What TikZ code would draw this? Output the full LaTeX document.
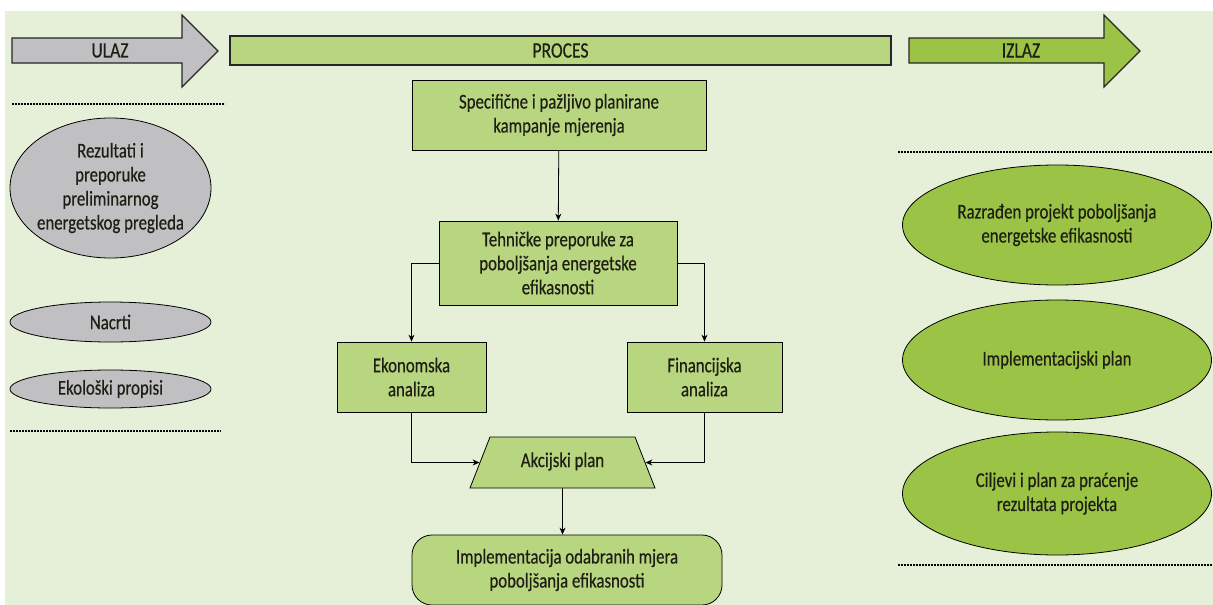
\documentclass[tikz,border=0pt]{standalone}
\usepackage{fontspec}
\setmainfont[FakeStretch=0.8,FakeBold=0.4]{Carlito}
\usetikzlibrary{shapes.geometric,arrows.meta}
\definecolor{bgc}{RGB}{230,240,216}
\definecolor{procc}{RGB}{184,214,128}
\definecolor{outc}{RGB}{155,196,70}
\definecolor{inc}{RGB}{192,192,194}
\definecolor{inkc}{RGB}{30,30,20}
\tikzset{
  txt/.style={font=\fontsize{21}{24}\selectfont, align=center, text=inkc},
  pbox/.style={txt, draw=black, line width=0.8pt, fill=procc, inner sep=0pt},
  inell/.style={txt, ellipse, draw=black, line width=0.8pt, fill=inc, inner sep=0pt},
  outell/.style={txt, ellipse, draw=black, line width=0.8pt, fill=outc, inner sep=0pt},
  bigarrow/.style={draw=black!85, line width=1.2pt, line join=miter},
  headtxt/.style={txt, font=\fontsize{22}{24}\selectfont},
  sep/.style={line width=2.2pt, dash pattern=on 2pt off 1pt},
  conn/.style={line width=0.8pt, -{Stealth[length=7pt,width=6pt]}},
}
\begin{document}
\begin{tikzpicture}[x=1pt,y=-1pt]
\useasboundingbox (0,0) rectangle (1213,605);
\fill[bgc] (5,11) rectangle (1213,605);
% top header arrows
\draw[bigarrow, fill=inc] (12,38) -- (182,38) -- (182,15) -- (218,51) -- (182,87) -- (182,63) -- (12,63) -- cycle;
\node[headtxt] (ulaz) at (110,50.5) {ULAZ};
\node[pbox, headtxt, minimum width=661pt, minimum height=29pt, draw=black!85, line width=1.2pt] (proces) at (560.5,50.5) {PROCES};
\draw[bigarrow, fill=outc] (909,38) -- (1104,38) -- (1104,15) -- (1140,51) -- (1104,87) -- (1104,63) -- (909,63) -- cycle;
\node[headtxt] (izlaz) at (1021,50.5) {IZLAZ};
% separators
\draw[sep] (12,104) -- (225,104);
\draw[sep] (10,431) -- (221,431);
\draw[sep] (898,152) -- (1212,152);
\draw[sep] (898,565) -- (1212,565);
% input ellipses
\node[inell, inner xsep=-12pt, minimum width=201pt, minimum height=140pt] (rez) at (110.5,188) {Rezultati i\\preporuke\\preliminarnog\\energetskog pregleda};
\node[inell, inner sep=-20pt, minimum width=201pt, minimum height=40pt] (nac) at (110.5,322) {Nacrti};
\node[inell, inner sep=-20pt, minimum width=201pt, minimum height=38pt] (eko) at (110.5,389) {Ekološki propisi};
% output ellipses
\node[outell, inner xsep=-10pt, minimum width=309pt, minimum height=120pt] (razr) at (1057,225) {Razrađen projekt poboljšanja\\energetske efikasnosti};
\node[outell, minimum width=309pt, minimum height=120pt] (impl) at (1057,360) {Implementacijski plan};
\node[outell, inner xsep=-10pt, minimum width=309pt, minimum height=123pt] (cilj) at (1057,493.5) {Ciljevi i plan za praćenje\\rezultata projekta};
% process boxes
\node[pbox, minimum width=294pt, minimum height=70pt] (spec) at (559,115) {Specifične i pažljivo planirane\\kampanje mjerenja};
\node[pbox, minimum width=238pt, minimum height=84pt] (teh) at (558,263) {Tehničke preporuke za\\poboljšanja energetske\\efikasnosti};
\node[pbox, minimum width=149pt, minimum height=70pt] (ekon) at (411.5,377) {Ekonomska\\analiza};
\node[pbox, minimum width=155pt, minimum height=70pt] (fin) at (704.5,377) {Financijska\\analiza};
\node[pbox, trapezium, trapezium left angle=68.6, trapezium right angle=68.6, inner xsep=10pt, text height=14pt, text depth=5pt, inner ysep=16pt] (akc) at (562.5,462.5) {\makebox[125pt]{Akcijski plan}};
\node[pbox, rounded corners=20pt, minimum width=310pt, minimum height=70pt] (mjere) at (567,570) {Implementacija odabranih mjera\\poboljšanja efikasnosti};
% connectors
\draw[conn] (spec) -- (teh);
\draw[conn] (teh.west) -| (ekon.north);
\draw[conn] (teh.east) -| (fin.north);
\draw[conn] (ekon.south) |- (akc.west);
\draw[conn] (fin.south) |- (akc.east);
\draw[conn] (akc.south) -- (akc.south |- mjere.north);
\end{tikzpicture}
\end{document}
